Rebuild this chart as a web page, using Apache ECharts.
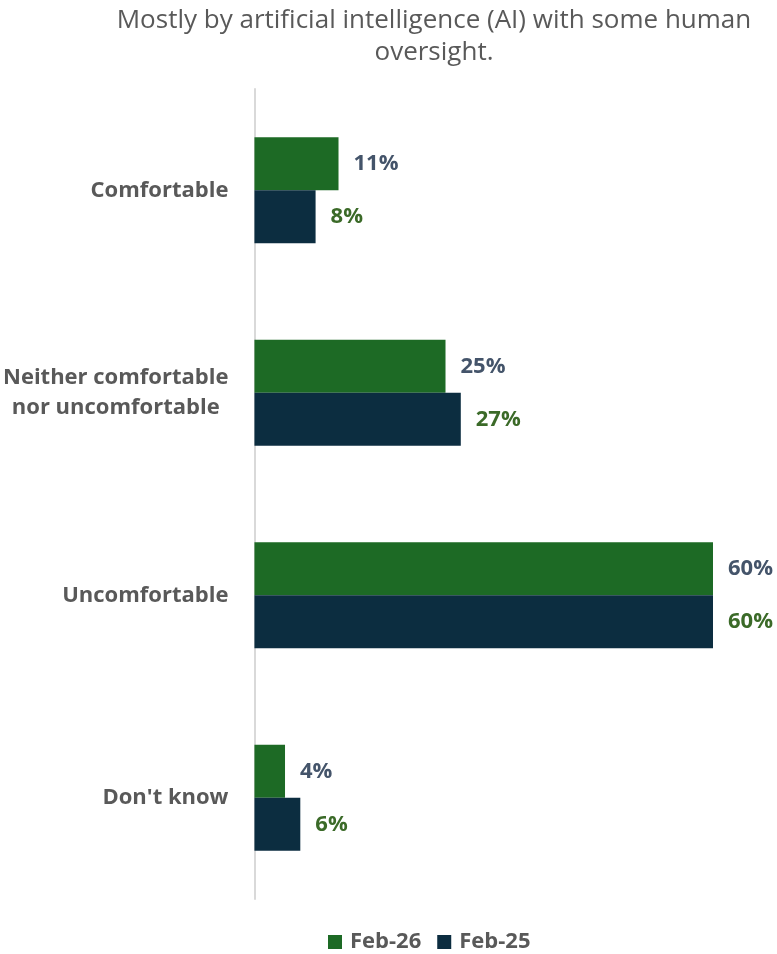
<!DOCTYPE html>
<html>
<head>
<meta charset="utf-8">
<script src="https://cdn.jsdelivr.net/npm/echarts@6/dist/echarts.min.js"></script>
<style>
  html, body { margin: 0; padding: 0; background: #ffffff; }
  #chart { width: 777px; height: 954px; }
</style>
</head>
<body>
<div id="chart"></div>
<script>
// Comfort with decisions made mostly by AI, two survey waves
const categories = ['Comfortable', 'Neither comfortable\nnor uncomfortable', 'Uncomfortable', "Don't know"];
const feb26 = [11, 25, 60, 4];
const feb25 = [8, 27, 60, 6];
const seriesNames = ['Feb-26', 'Feb-25'];
const titleText = 'Mostly by artificial intelligence (AI) with some human\noversight.';

const FONT = '"Open Sans", sans-serif';
const chart = echarts.init(document.getElementById('chart'));

chart.setOption({
  animation: false,
  title: {
    text: titleText,
    left: 429,
    textAlign: 'center',
    top: 0,
    textStyle: {
      fontFamily: FONT,
      fontWeight: 'normal',
      fontSize: 26,
      lineHeight: 32,
      color: '#595959'
    }
  },
  grid: { left: 254, right: 64, top: 89, bottom: 55, containLabel: false },
  xAxis: {
    type: 'value',
    min: 0,
    max: 60,
    show: false
  },
  yAxis: {
    type: 'category',
    data: categories,
    inverse: true,
    axisLine: { show: true, lineStyle: { color: '#d9d9d9', width: 2 } },
    axisTick: { show: false },
    axisLabel: {
      margin: 26,
      align: 'right',
      fontFamily: FONT,
      fontWeight: 'bold',
      fontSize: 22,
      color: '#595959',
      formatter: function (v) {
        return v.split('\n').map(function (l) { return '{c|' + l + '}'; }).join('\n');
      },
      rich: {
        c: {
          align: 'center',
          fontFamily: FONT,
          fontWeight: 'bold',
          fontSize: 22,
          lineHeight: 30,
          color: '#595959'
        }
      }
    }
  },
  legend: {
    top: 926,
    left: 323,
    itemWidth: 14,
    itemHeight: 14,
    itemGap: 16,
    icon: 'rect',
    textStyle: { fontFamily: FONT, fontWeight: 'bold', fontSize: 22, color: '#595959', padding: [0, 0, 0, 3] },
    data: seriesNames
  },
  series: [
    {
      name: seriesNames[0],
      type: 'bar',
      data: feb26,
      barWidth: 53,
      barGap: '0%',
      itemStyle: { color: '#1d6a25' },
      label: {
        show: true,
        position: 'right',
        distance: 15,
        formatter: '{c}%',
        fontFamily: FONT,
        fontWeight: 'bold',
        fontSize: 22,
        color: '#44546a'
      }
    },
    {
      name: seriesNames[1],
      type: 'bar',
      data: feb25,
      barWidth: 53,
      barGap: '0%',
      itemStyle: { color: '#0c2d40' },
      label: {
        show: true,
        position: 'right',
        distance: 15,
        formatter: '{c}%',
        fontFamily: FONT,
        fontWeight: 'bold',
        fontSize: 22,
        color: '#3b6a28'
      }
    }
  ]
});
</script>
</body>
</html>
